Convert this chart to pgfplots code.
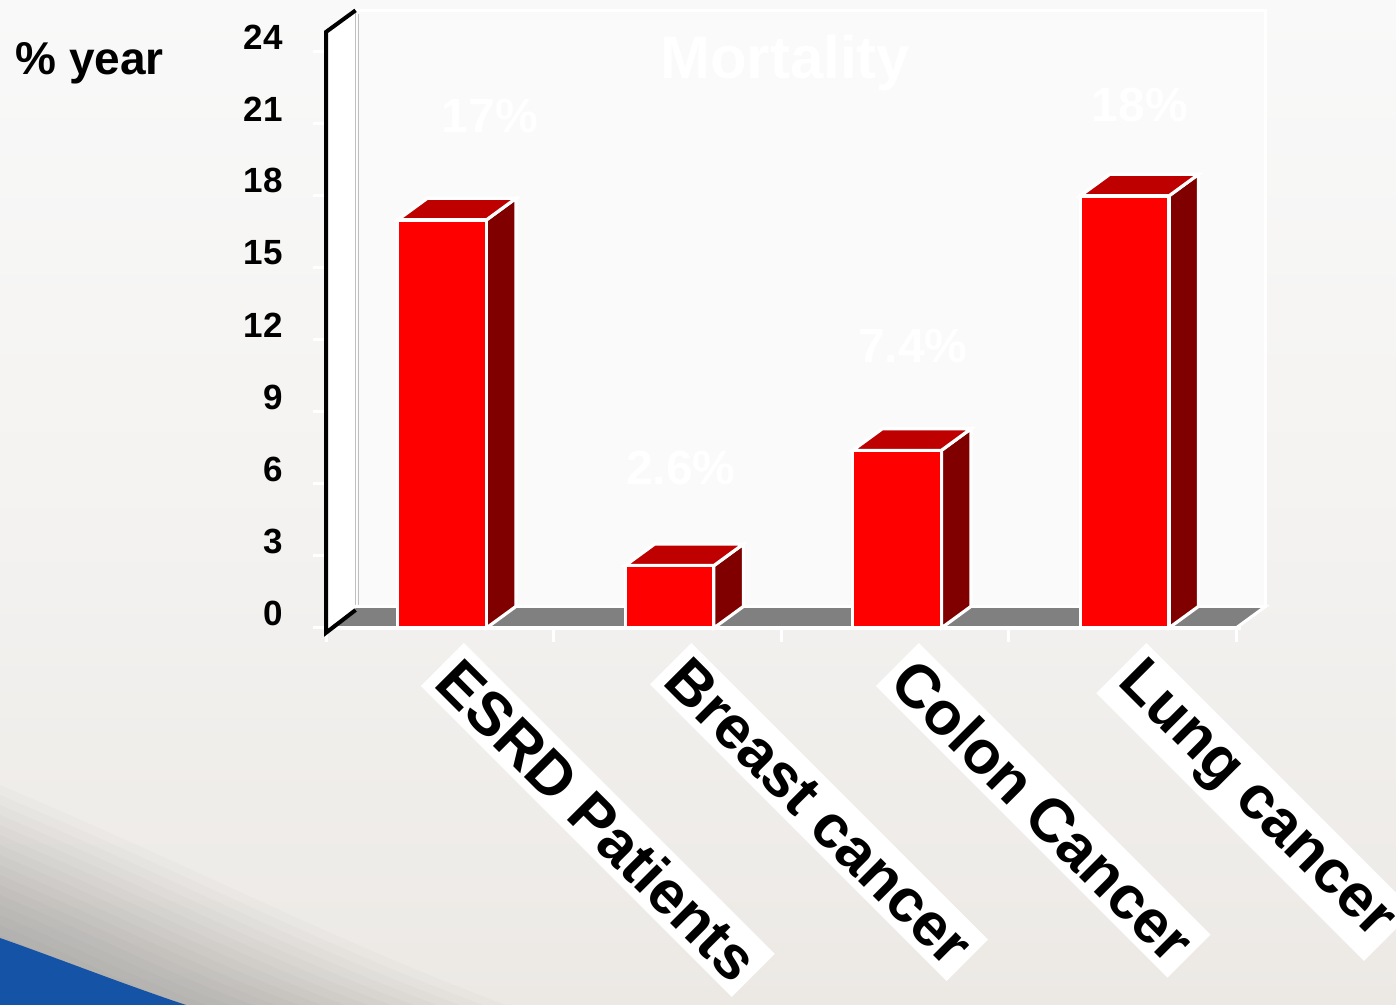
\documentclass[border=0pt]{standalone}
\usepackage{pgfplots}
\pgfplotsset{compat=1.18}
\usepackage{fontspec}
\setmainfont{Liberation Sans}

\definecolor{barfront}{HTML}{FF0000}
\definecolor{bartop}{HTML}{BE0000}
\definecolor{barside}{HTML}{800000}
\definecolor{floorgray}{HTML}{808080}
\definecolor{wallfill}{HTML}{FAFAFA}
\definecolor{bgtop}{HTML}{F9F9F9}
\definecolor{bgbot}{HTML}{ECE9E5}
\definecolor{swoosh}{HTML}{1553A6}

\pgfplotsset{
  face/.style={draw=white, line width=1.6pt, line join=miter, forget plot},
}

\begin{document}
\begin{tikzpicture}
\useasboundingbox (0,0) rectangle (698pt,502.5pt);
\clip (0,0) rectangle (698pt,502.5pt);
% slide background
\fill[top color=bgtop, bottom color=bgbot, middle color=bgtop!60!bgbot] (0,0) rectangle (698pt,502.5pt);
\begin{scope}[x=0.5pt,y=0.5pt]
  \foreach \h in {70,80,...,220}{
    \fill[black, opacity=0.014] (0,0) -- (0,\h) .. controls (0.9*\h,0.62*\h) and (1.5*\h,0.3*\h) .. (2.3*\h,0) -- cycle;
  }
  \fill[swoosh] (0,0) -- (0,67) .. controls (60,46) and (120,22) .. (186,0) -- cycle;
\end{scope}

\begin{axis}[
  at={(163pt,188.5pt)}, anchor=south west,
  scale only axis, width=455pt, height=298pt,
  xmin=-0.5, xmax=3.5, ymin=0, ymax=24.83,
  clip=false,
  axis line style={draw=none},
  tick align=outside,
  xtick pos=bottom, ytick pos=left,
  xtick={0,1,2,3},
  xticklabels={ESRD Patients, Breast cancer, Colon Cancer, Lung cancer},
  major x tick style={draw=none},
  minor xtick={-0.5,0.5,1.5,2.5,3.5},
  minor x tick style={white, line width=1.5pt},
  minor tick length=7pt,
  ytick={0,3,...,24},
  major y tick style={white, line width=1.5pt},
  major tick length=6.5pt,
  /pgf/number format/assume math mode=true,
  yticklabel style={font=\bfseries\fontsize{17.5}{20}\selectfont, anchor=east, inner sep=0pt, xshift=-15pt, yshift=7.5pt},
  xticklabel style={rotate=-45, anchor=north west, fill=white, inner sep=4pt,
    font=\bfseries\fontsize{30.5}{36}\selectfont, xshift=9pt, yshift=8pt},
]
% back wall and side wall
\draw[white, line width=1.5pt, fill=wallfill] (axis cs:-0.37,0.9) rectangle (axis cs:3.63,25.73);
\fill[white] (axis cs:-0.5,0) -- (axis cs:-0.5,24.83) -- (axis cs:-0.37,25.73) -- (axis cs:-0.37,0.9) -- cycle;
\draw[black!25, line width=0.5pt] (axis cs:-0.37,0.9) -- (axis cs:-0.37,25.73);
\draw[black!25, line width=0.5pt] (axis cs:-0.355,0.9) -- (axis cs:-0.355,25.6);
% floor
\filldraw[fill=floorgray, draw=white, line width=1.5pt] (axis cs:-0.5,0) -- (axis cs:3.5,0) -- (axis cs:3.63,0.9) -- (axis cs:-0.37,0.9) -- cycle;
\draw[white, line width=2pt] (axis cs:-0.5,0) -- (axis cs:3.52,0);
\draw[black, line width=2pt, line join=miter] (axis cs:-0.37,25.73) -- (axis cs:-0.5,24.83) -- (axis cs:-0.5,-0.2) -- (axis cs:-0.37,0.75);

% ESRD Patients: 17
\addplot[face, fill=barside]  coordinates {(0.205,0) (0.335,0.9) (0.335,17.9) (0.205,17)} -- cycle;
\addplot[face, fill=bartop]   coordinates {(-0.185,17) (0.205,17) (0.335,17.9) (-0.055,17.9)} -- cycle;
\addplot[face, fill=barfront] coordinates {(-0.185,0) (0.205,0) (0.205,17) (-0.185,17)} -- cycle;
% Breast cancer: 2.6
\addplot[face, fill=barside]  coordinates {(1.205,0) (1.335,0.9) (1.335,3.5) (1.205,2.6)} -- cycle;
\addplot[face, fill=bartop]   coordinates {(0.815,2.6) (1.205,2.6) (1.335,3.5) (0.945,3.5)} -- cycle;
\addplot[face, fill=barfront] coordinates {(0.815,0) (1.205,0) (1.205,2.6) (0.815,2.6)} -- cycle;
% Colon Cancer: 7.4
\addplot[face, fill=barside]  coordinates {(2.205,0) (2.335,0.9) (2.335,8.3) (2.205,7.4)} -- cycle;
\addplot[face, fill=bartop]   coordinates {(1.815,7.4) (2.205,7.4) (2.335,8.3) (1.945,8.3)} -- cycle;
\addplot[face, fill=barfront] coordinates {(1.815,0) (2.205,0) (2.205,7.4) (1.815,7.4)} -- cycle;
% Lung cancer: 18
\addplot[face, fill=barside]  coordinates {(3.205,0) (3.335,0.9) (3.335,18.9) (3.205,18)} -- cycle;
\addplot[face, fill=bartop]   coordinates {(2.815,18) (3.205,18) (3.335,18.9) (2.945,18.9)} -- cycle;
\addplot[face, fill=barfront] coordinates {(2.815,0) (3.205,0) (3.205,18) (2.815,18)} -- cycle;

% title and value labels (white)
\node[white, anchor=base, font=\bfseries\fontsize{30}{36}\selectfont] at (axis cs:1.518,22.875) {Mortality};
\node[white, anchor=base, font=\bfseries\fontsize{24}{28}\selectfont] at (axis cs:0.221,20.625) {17\%};
\node[white, anchor=base, font=\bfseries\fontsize{24}{28}\selectfont] at (axis cs:1.06,5.96) {2.6\%};
\node[white, anchor=base, font=\bfseries\fontsize{24}{28}\selectfont] at (axis cs:2.08,11.04) {7.4\%};
\node[white, anchor=base, font=\bfseries\fontsize{24}{28}\selectfont] at (axis cs:3.078,21.08) {18\%};
\end{axis}

\node[anchor=base west, inner sep=0pt, font=\bfseries\fontsize{23}{28}\selectfont] at (7.5pt,465pt) {\% year};
\end{tikzpicture}
\end{document}
